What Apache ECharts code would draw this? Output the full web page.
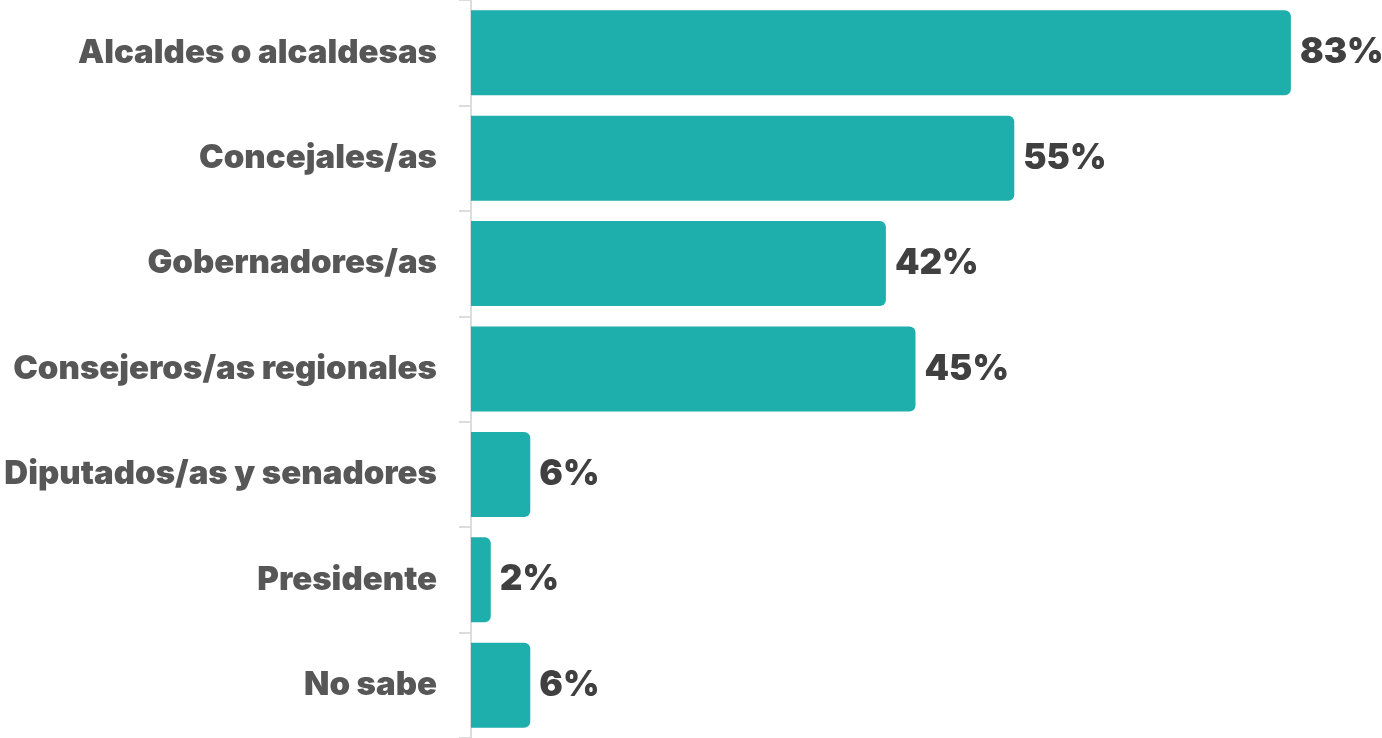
<!DOCTYPE html>
<html>
<head>
<meta charset="utf-8">
<script src="https://cdn.jsdelivr.net/npm/echarts@6/dist/echarts.min.js"></script>
<style>
html,body{margin:0;padding:0;background:#fff;}
#chart{width:1382px;height:738px;}
</style>
</head>
<body>
<div id="chart"></div>
<script>
const categories = ["Alcaldes o alcaldesas","Concejales/as","Gobernadores/as","Consejeros/as regionales","Diputados/as y senadores","Presidente","No sabe"];
const values = [83, 55, 42, 45, 6, 2, 6];

const chart = echarts.init(document.getElementById('chart'), null, {renderer:'canvas'});
chart.setOption({
  animation:false,
  grid:{left:471, right:20, top:0, bottom:0, containLabel:false},
  xAxis:{type:'value', min:0, max:90.2, show:false},
  yAxis:{
    type:'category', data:categories, inverse:true,
    axisLine:{show:true, lineStyle:{color:'#dcdcdc', width:2}},
    axisTick:{show:true, length:12, lineStyle:{color:'#dcdcdc', width:2}},
    axisLabel:{margin:34, color:'#575757', fontFamily:'Inter', fontWeight:900, fontSize:33, padding:[6,0,0,0]},
    splitLine:{show:false}
  },
  series:[{
    type:'bar', data:values, barWidth:85,
    itemStyle:{color:'#1eafad', borderRadius:[0,6,6,0]},
    label:{show:true, position:'right', distance:9, formatter:'{c}%', color:'#404040', fontFamily:'Inter', fontWeight:900, fontSize:35, padding:[6,0,0,0]}
  }]
});
</script>
</body>
</html>
